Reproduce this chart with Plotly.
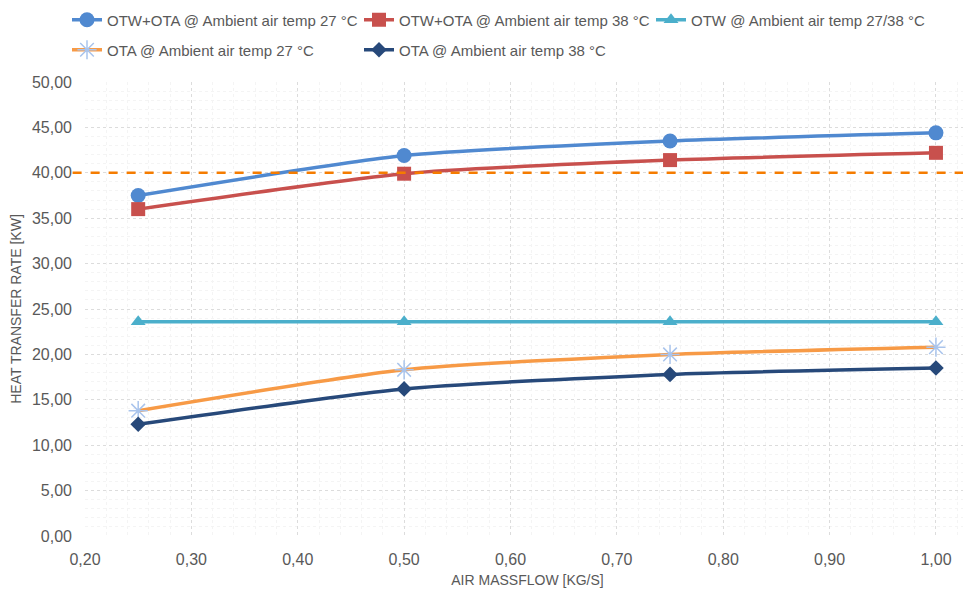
import plotly.graph_objects as go

massflow = [0.25, 0.50, 0.75, 1.00]
otw_ota_27 = [37.5, 41.9, 43.5, 44.4]
otw_ota_38 = [36.0, 39.9, 41.4, 42.2]
otw_27_38 = [23.6, 23.6, 23.6, 23.6]
ota_27 = [13.8, 18.3, 20.0, 20.8]
ota_38 = [12.3, 16.2, 17.8, 18.5]
threshold = 40.0

names = [
    "OTW+OTA @ Ambient air temp 27 °C",
    "OTW+OTA @ Ambient air temp 38 °C",
    "OTW @ Ambient air temp 27/38 °C",
    "OTA @ Ambient air temp 27 °C",
    "OTA @ Ambient air temp 38 °C",
]

FONT = "Liberation Sans, Arial, sans-serif"
GRAY = "#595959"
W, H = 963, 583  # page body has an 8px margin

fig = go.Figure()

styles = [
    (otw_ota_27, "#5089D0", dict(symbol="circle", size=15, color="#5089D0")),
    (otw_ota_38, "#C8504D", dict(symbol="square", size=14, color="#C8504D")),
    (otw_27_38, "#4BAFCB", dict(symbol="triangle-up", size=13, color="#4BAFCB")),
    (ota_27, "#F79A46", dict(symbol="asterisk-open", size=16, color="#A9C4EC",
                             line=dict(color="#A9C4EC", width=1.5))),
    (ota_38, "#27497A", dict(symbol="diamond", size=12, color="#27497A")),
]
legend_ids = ["legend", "legend2", "legend3", "legend4", "legend5"]
# legend slot positions (fig px): left of symbol, row centre
slots = [(59, 12), (351, 12), (643, 12), (59, 42), (351, 42)]

for (ys, col, mk), nm, lg in zip(styles, names, legend_ids):
    fig.add_trace(go.Scatter(
        x=massflow, y=ys, name=nm, mode="lines+markers",
        line=dict(color=col, width=3.5, shape="spline", smoothing=0.6),
        marker=mk, legend=lg,
    ))

fig.add_shape(type="line", xref="paper", yref="y", x0=-0.014, x1=1.0,
              y0=threshold, y1=threshold,
              line=dict(color="#F57C00", width=2.5, dash="dash"))

legends = {}
for lg, (sx, sy) in zip(legend_ids, slots):
    legends[lg] = dict(orientation="h", xref="container", yref="container",
                       x=sx / W, y=1 - sy / H, xanchor="left", yanchor="middle",
                       font=dict(size=15, color=GRAY), itemwidth=30,
                       bgcolor="rgba(0,0,0,0)")

fig.update_layout(
    width=W, height=H,
    margin=dict(l=77, r=1, t=74, b=55, autoexpand=False),
    paper_bgcolor="white", plot_bgcolor="white",
    separators=", ",
    font=dict(family=FONT, size=15, color=GRAY),
    showlegend=True,
    **legends,
    xaxis=dict(
        range=[0.2, 1.032], tickvals=[0.2, 0.3, 0.4, 0.5, 0.6, 0.7, 0.8, 0.9, 1.0],
        tickformat=".2f", showgrid=True, gridcolor="#DCDCDC", griddash="dot", gridwidth=1,
        minor=dict(dtick=0.02, showgrid=True, gridcolor="#F4F4F4", griddash="dot"),
        zeroline=False, showline=False,
        ticks="", tickfont=dict(size=16, color=GRAY), ticklabelstandoff=12,
        title=dict(text="AIR MASSFLOW [KG/S]", font=dict(size=14, color=GRAY), standoff=8),
    ),
    yaxis=dict(
        range=[0, 50], dtick=5, tickformat=".2f",
        showgrid=True, gridcolor="#DCDCDC", griddash="dot", gridwidth=1,
        minor=dict(dtick=1, showgrid=True, gridcolor="#F4F4F4", griddash="dot"),
        zeroline=False, showline=False, ticks="",
        tickfont=dict(size=16, color=GRAY), ticklabelstandoff=12,
        title=dict(text="HEAT TRANSFER RATE [KW]", font=dict(size=14, color=GRAY), standoff=9),
    ),
)

fig.write_html("out.html")
